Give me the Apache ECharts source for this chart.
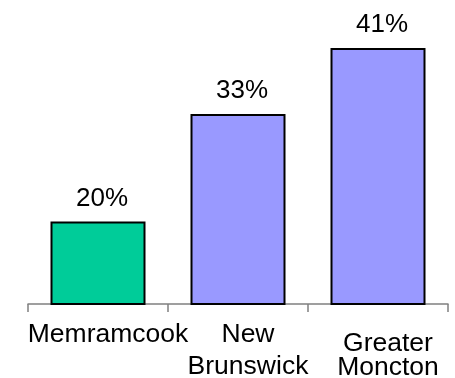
<!DOCTYPE html>
<html>
<head>
<meta charset="utf-8">
<script src="https://cdn.jsdelivr.net/npm/echarts@6/dist/echarts.min.js"></script>
<style>html,body{margin:0;padding:0;background:#fff;}#c{width:455px;height:378px;}</style>
</head>
<body>
<div id="c"></div>
<script>
const categories = ['Memramcook', 'New\nBrunswick', 'Greater\nMoncton'];
const values = [20, 33, 41];
const barColors = ['#00CC99', '#9999FF', '#9999FF'];

const chart = echarts.init(document.getElementById('c'), null, {renderer: 'canvas'});
chart.setOption({
  animation: false,
  backgroundColor: '#fff',
  grid: {left: 28, right: 7, top: 15, bottom: 74, containLabel: false, outerBoundsMode: 'none'},
  xAxis: {
    type: 'category',
    data: categories.map((c, i) => i === 2 ? {value: c, textStyle: {padding: [13, 0, 0, 20], lineHeight: 23.5}} : c),
    axisLine: {lineStyle: {color: '#808080', width: 1.5}},
    axisTick: {show: true, length: 8, lineStyle: {color: '#808080', width: 1.5}},
    axisLabel: {
      interval: 0, margin: 15, color: '#000', fontFamily: 'Liberation Sans',
      fontSize: 26.5, lineHeight: 32, padding: [0, 0, 0, 20]
    }
  },
  yAxis: {
    type: 'value', min: 10, max: 45,
    axisLine: {show: false}, axisTick: {show: false}, axisLabel: {show: false},
    splitLine: {show: false}
  },
  series: [{
    type: 'bar',
    barWidth: 95,
    data: values.map((v, i) => ({value: v, itemStyle: {color: barColors[i]}})),
    itemStyle: {borderColor: '#000', borderWidth: 2},
    label: {
      show: true, position: 'top', distance: 10, offset: [4, 0],
      formatter: '{c}%', color: '#000', fontFamily: 'Liberation Sans', fontSize: 26
    }
  }]
});
</script>
</body>
</html>
